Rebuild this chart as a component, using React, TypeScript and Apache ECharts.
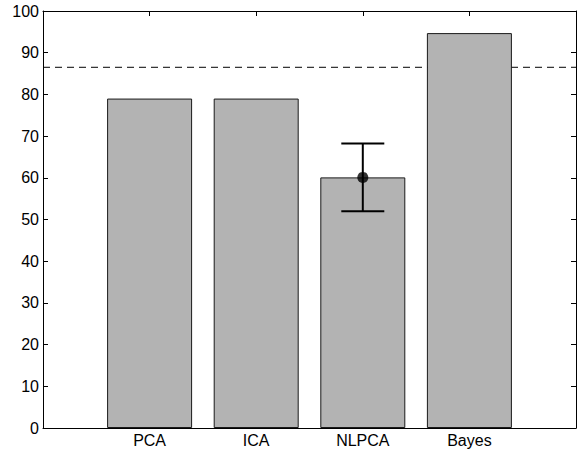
import React, { useEffect, useRef } from "react";
import * as echarts from "echarts";

const categories = ["PCA", "ICA", "NLPCA", "Bayes"];
const positions = [1, 2, 3, 4];
const values = [79, 79, 60.1, 94.7];
const errLow = [null, null, 52.0, null];
const errHigh = [null, null, 68.2, null];
const referenceLevel = 86.5;
const yTicks = [0, 10, 20, 30, 40, 50, 60, 70, 80, 90, 100];

export default function App() {
  const ref = useRef<HTMLDivElement>(null);
  useEffect(() => {
    const chart = echarts.init(ref.current!, undefined, { renderer: "svg" });
    const font = "'Liberation Sans', Arial, Helvetica, sans-serif";
    const barData = positions.map((p, i) => [p, values[i]]);
    const errData: number[][] = [];
    positions.forEach((p, i) => {
      if (errLow[i] != null && errHigh[i] != null) errData.push([p, errLow[i] as number, errHigh[i] as number, values[i]]);
    });
    const axisLine = { show: true, onZero: false, lineStyle: { color: "#000", width: 1 } };
    const inTick = { show: true, inside: true, length: 5, lineStyle: { color: "#000", width: 1 } };
    chart.setOption({
      animation: false,
      grid: { left: 43, right: 8, top: 11, bottom: 22, containLabel: false },
      xAxis: [
        {
          type: "value",
          position: "bottom",
          min: 0,
          max: 5,
          interval: 1,
          axisLine,
          axisTick: inTick,
          splitLine: { show: false },
          axisLabel: {
            margin: 4,
            fontFamily: font,
            fontSize: 16,
            color: "#000",
            formatter: (v: number) => {
              const idx = positions.indexOf(v);
              return idx >= 0 ? categories[idx] : "";
            },
          },
        },
        {
          type: "value",
          position: "top",
          min: 0,
          max: 5,
          interval: 1,
          axisLine,
          axisTick: inTick,
          splitLine: { show: false },
          axisLabel: { show: false },
        },
      ],
      yAxis: [
        {
          type: "value",
          position: "left",
          min: yTicks[0],
          max: yTicks[yTicks.length - 1],
          interval: 10,
          axisLine,
          axisTick: inTick,
          splitLine: { show: false },
          axisLabel: { margin: 4, fontFamily: font, fontSize: 16, color: "#000" },
        },
        {
          type: "value",
          position: "right",
          min: yTicks[0],
          max: yTicks[yTicks.length - 1],
          interval: 10,
          axisLine,
          axisTick: inTick,
          splitLine: { show: false },
          axisLabel: { show: false },
        },
      ],
      series: [
        {
          type: "line",
          xAxisIndex: 0,
          yAxisIndex: 0,
          z: 1,
          symbol: "none",
          data: [
            [0, referenceLevel],
            [5, referenceLevel],
          ],
          lineStyle: { color: "#000", width: 1, type: [7, 5] },
          silent: true,
        },
        {
          type: "bar",
          xAxisIndex: 0,
          yAxisIndex: 0,
          z: 2,
          barWidth: 85,
          data: barData,
          itemStyle: { color: "#b3b3b3", borderColor: "#1a1a1a", borderWidth: 1 },
        },
        {
          type: "custom",
          xAxisIndex: 0,
          yAxisIndex: 0,
          z: 3,
          data: errData,
          renderItem: (params: any, api: any) => {
            const x = api.value(0);
            const lo = api.coord([x, api.value(1)]);
            const hi = api.coord([x, api.value(2)]);
            const hw = 21.5;
            const style = { stroke: "#000", lineWidth: 2 };
            return {
              type: "group",
              children: [
                { type: "line", shape: { x1: lo[0], y1: lo[1], x2: hi[0], y2: hi[1] }, style },
                { type: "line", shape: { x1: lo[0] - hw, y1: lo[1], x2: lo[0] + hw, y2: lo[1] }, style },
                { type: "line", shape: { x1: hi[0] - hw, y1: hi[1], x2: hi[0] + hw, y2: hi[1] }, style },
              ],
            };
          },
        },
        {
          type: "scatter",
          xAxisIndex: 0,
          yAxisIndex: 0,
          z: 4,
          symbol: "circle",
          symbolSize: 11,
          data: errData.map((d) => [d[0], d[3]]),
          itemStyle: { color: "#000" },
        },
      ],
    });
    return () => chart.dispose();
  }, []);
  return <div ref={ref} style={{ width: 584, height: 450, position: "absolute", left: 0, top: 0, background: "#fff" }} />;
}
